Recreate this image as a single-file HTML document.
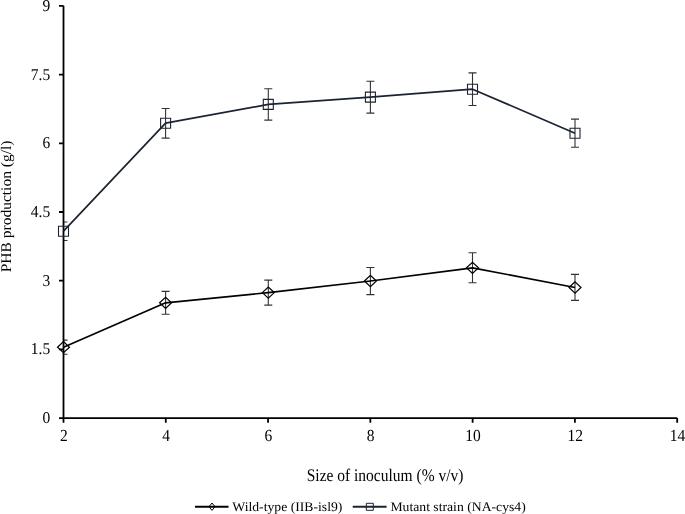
<!DOCTYPE html><html><head><meta charset="utf-8"><style>html,body{margin:0;padding:0;background:#fff;}body{width:685px;height:514px;overflow:hidden;}svg{display:block;will-change:transform;text-rendering:geometricPrecision;font-family:"Liberation Serif",serif;}</style></head><body>
<svg width="685" height="514" viewBox="0 0 685 514">
<defs><clipPath id="pc"><rect x="63.5" y="0" width="622" height="420"/></clipPath></defs>
<g clip-path="url(#pc)">
<path d="M63.50 222.00V240.50M59.50 222.00H67.50M59.50 240.50H67.50M165.60 108.50V138.10M161.60 108.50H169.60M161.60 138.10H169.60M268.30 88.80V120.10M264.30 88.80H272.30M264.30 120.10H272.30M370.40 81.20V113.10M366.40 81.20H374.40M366.40 113.10H374.40M472.50 72.90V105.50M468.50 72.90H476.50M468.50 105.50H476.50M575.00 119.10V147.30M571.00 119.10H579.00M571.00 147.30H579.00" stroke="#333" stroke-width="1.1" fill="none"/>
<path d="M63.50 340.10V354.20M59.50 340.10H67.50M59.50 354.20H67.50M165.60 291.40V314.30M161.60 291.40H169.60M161.60 314.30H169.60M268.30 280.10V305.10M264.30 280.10H272.30M264.30 305.10H272.30M370.40 267.50V294.60M366.40 267.50H374.40M366.40 294.60H374.40M472.50 252.70V282.80M468.50 252.70H476.50M468.50 282.80H476.50M575.00 274.40V300.40M571.00 274.40H579.00M571.00 300.40H579.00" stroke="#333" stroke-width="1.1" fill="none"/>
</g>
<path d="M63.5 5.8V418.1H677.2" fill="none" stroke="#000" stroke-width="1.8"/>
<path d="M59 418.10H63.5M59 349.40H63.5M59 280.70H63.5M59 212.00H63.5M59 143.30H63.5M59 74.60H63.5M59 5.90H63.5" stroke="#000" stroke-width="1.8" fill="none"/>
<path d="M63.50 418.1V422.7M165.78 418.1V422.7M268.06 418.1V422.7M370.34 418.1V422.7M472.62 418.1V422.7M574.90 418.1V422.7M677.18 418.1V422.7" stroke="#000" stroke-width="1.8" fill="none"/>
<text transform="translate(50.20 423.00) scale(1.0 1.07)" font-size="15.5" text-anchor="end">0</text>
<text transform="translate(50.20 354.30) scale(1.0 1.07)" font-size="15.5" text-anchor="end">1.5</text>
<text transform="translate(50.20 285.60) scale(1.0 1.07)" font-size="15.5" text-anchor="end">3</text>
<text transform="translate(50.20 216.90) scale(1.0 1.07)" font-size="15.5" text-anchor="end">4.5</text>
<text transform="translate(50.20 148.20) scale(1.0 1.07)" font-size="15.5" text-anchor="end">6</text>
<text transform="translate(50.20 79.50) scale(1.0 1.07)" font-size="15.5" text-anchor="end">7.5</text>
<text transform="translate(50.20 10.80) scale(1.0 1.07)" font-size="15.5" text-anchor="end">9</text>
<text transform="translate(63.80 441.40) scale(1.0 1.09)" font-size="15.5" text-anchor="middle">2</text>
<text transform="translate(166.08 441.40) scale(1.0 1.09)" font-size="15.5" text-anchor="middle">4</text>
<text transform="translate(268.36 441.40) scale(1.0 1.09)" font-size="15.5" text-anchor="middle">6</text>
<text transform="translate(370.64 441.40) scale(1.0 1.09)" font-size="15.5" text-anchor="middle">8</text>
<text transform="translate(472.92 441.40) scale(1.0 1.09)" font-size="15.5" text-anchor="middle">10</text>
<text transform="translate(575.20 441.40) scale(1.0 1.09)" font-size="15.5" text-anchor="middle">12</text>
<text transform="translate(677.48 441.40) scale(1.0 1.09)" font-size="15.5" text-anchor="middle">14</text>
<text transform="translate(306.70 480.80) scale(1.0 1.14)" font-size="15.5">Size of inoculum (% v/v)</text>
<text transform="translate(10.70 272.30) rotate(-90) scale(1.0 0.95)" font-size="15.5">PHB production (g/l)</text>
<polyline points="63.50,231.20 165.60,123.20 268.30,104.40 370.40,97.10 472.50,89.20 575.00,133.20" fill="none" stroke="#1b2333" stroke-width="1.7" stroke-linejoin="round"/>
<polyline points="63.50,347.20 165.60,302.80 268.30,292.60 370.40,281.00 472.50,267.80 575.00,287.50" fill="none" stroke="#000" stroke-width="1.7" stroke-linejoin="round"/>
<path d="M58.50 226.20h10v10h-10zM160.60 118.20h10v10h-10zM263.30 99.40h10v10h-10zM365.40 92.10h10v10h-10zM467.50 84.20h10v10h-10zM570.00 128.20h10v10h-10z" stroke="#1b2333" stroke-width="1.1" fill="none"/>
<path d="M57.50 347.20L63.50 341.60L69.50 347.20L63.50 352.80zM159.60 302.80L165.60 297.20L171.60 302.80L165.60 308.40zM262.30 292.60L268.30 287.00L274.30 292.60L268.30 298.20zM364.40 281.00L370.40 275.40L376.40 281.00L370.40 286.60zM466.50 267.80L472.50 262.20L478.50 267.80L472.50 273.40zM569.00 287.50L575.00 281.90L581.00 287.50L575.00 293.10z" stroke="#000" stroke-width="1.2" fill="none"/>
<path d="M195 506.7H228.5" stroke="#000" stroke-width="2"/>
<path d="M209 506.7L212 503L215 506.7L212 510.4z" stroke="#000" stroke-width="1" fill="none"/>
<text transform="translate(232.30 510.60) scale(1.0 0.96)" font-size="13.7">Wild-type (IIB-isl9)</text>
<path d="M352.7 506.8H386.6" stroke="#1b2333" stroke-width="2"/>
<path d="M366.3 503.3h7v7h-7z" stroke="#1b2333" stroke-width="1" fill="none"/>
<text transform="translate(390.40 510.60) scale(1.0 0.96)" font-size="13.7">Mutant strain (NA-cys4)</text>
</svg></body></html>
